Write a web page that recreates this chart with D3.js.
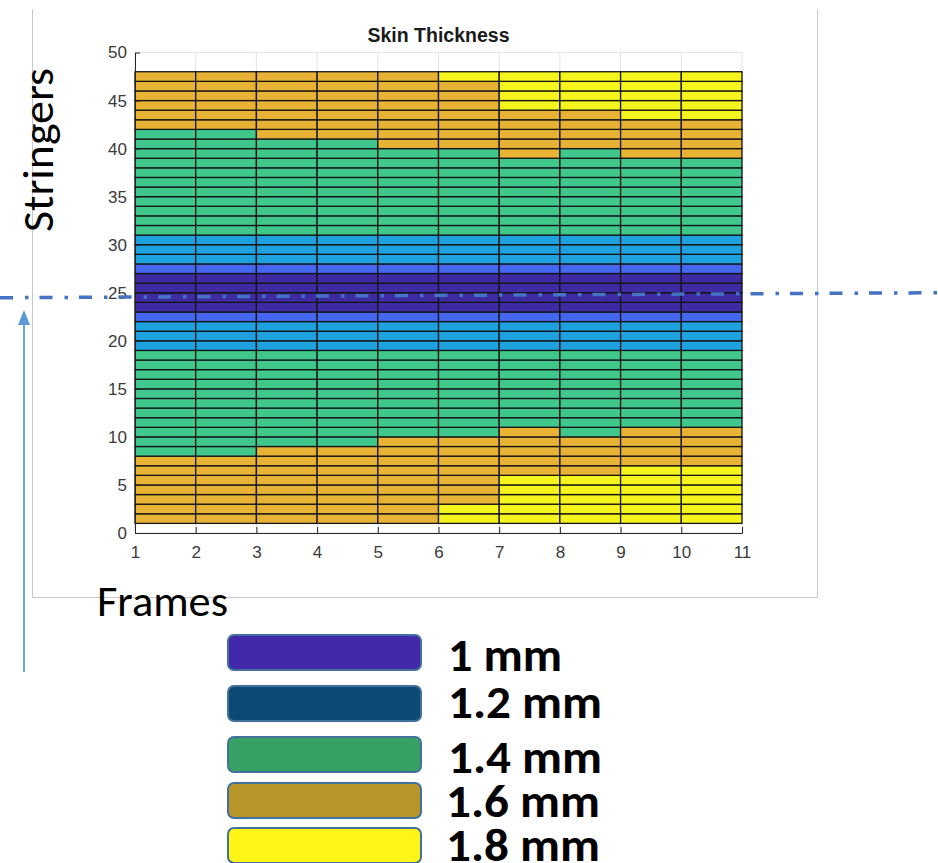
<!DOCTYPE html>
<html>
<head>
<meta charset="utf-8">
<script src="https://cdn.jsdelivr.net/npm/d3@7"></script>
<style>
  html, body { margin: 0; padding: 0; background: #ffffff; }
  svg { display: block; }
</style>
</head>
<body>
<svg id="fig" width="938" height="863"></svg>
<script>
// ---------------- data ----------------
// Axis ticks
const frameTicks = [1, 2, 3, 4, 5, 6, 7, 8, 9, 10, 11];
const stringerTicks = [0, 5, 10, 15, 20, 25, 30, 35, 40, 45, 50];

// First stringer of the panel grid
const firstStringer = 1;

// Skin thickness (mm) for each frame bay (frame 1-2, 2-3, ... 10-11),
// written as runs [thickness, number of stringer bays] going up from stringer 1
const thicknessRuns = [
  [[1.6, 7], [1.4, 11], [1.2, 3], [1.1, 1], [1.0, 4], [1.1, 1], [1.2, 3], [1.4, 11], [1.6, 6]],
  [[1.6, 7], [1.4, 11], [1.2, 3], [1.1, 1], [1.0, 4], [1.1, 1], [1.2, 3], [1.4, 11], [1.6, 6]],
  [[1.6, 8], [1.4, 10], [1.2, 3], [1.1, 1], [1.0, 4], [1.1, 1], [1.2, 3], [1.4, 10], [1.6, 7]],
  [[1.6, 8], [1.4, 10], [1.2, 3], [1.1, 1], [1.0, 4], [1.1, 1], [1.2, 3], [1.4, 10], [1.6, 7]],
  [[1.6, 9], [1.4, 9], [1.2, 3], [1.1, 1], [1.0, 4], [1.1, 1], [1.2, 3], [1.4, 9], [1.6, 8]],
  [[1.8, 2], [1.6, 7], [1.4, 9], [1.2, 3], [1.1, 1], [1.0, 4], [1.1, 1], [1.2, 3], [1.4, 9], [1.6, 7], [1.8, 1]],
  [[1.8, 5], [1.6, 5], [1.4, 8], [1.2, 3], [1.1, 1], [1.0, 4], [1.1, 1], [1.2, 3], [1.4, 8], [1.6, 5], [1.8, 4]],
  [[1.8, 5], [1.6, 4], [1.4, 9], [1.2, 3], [1.1, 1], [1.0, 4], [1.1, 1], [1.2, 3], [1.4, 9], [1.6, 4], [1.8, 4]],
  [[1.8, 6], [1.6, 4], [1.4, 8], [1.2, 3], [1.1, 1], [1.0, 4], [1.1, 1], [1.2, 3], [1.4, 8], [1.6, 4], [1.8, 5]],
  [[1.8, 6], [1.6, 4], [1.4, 8], [1.2, 3], [1.1, 1], [1.0, 4], [1.1, 1], [1.2, 3], [1.4, 8], [1.6, 4], [1.8, 5]]
];

// Thickness levels used in the map
const thicknessLevels = [1.0, 1.1, 1.2, 1.4, 1.6, 1.8];

// Legend entries
const legendThickness = [1.0, 1.2, 1.4, 1.6, 1.8];
const legendLabels = ["1 mm", "1.2 mm", "1.4 mm", "1.6 mm", "1.8 mm"];

// Reference stringer marked by the dash-dot line
const referenceStringer = 25;

// ---------------- styles / layout ----------------
const cellPalette = ["#3e2aa3", "#4566ee", "#1ea1df", "#3fc78c", "#e8b235", "#f5f51d"];
const legendPalette = ["#4229a9", "#0c4a74", "#36a065", "#b89528", "#fff517"];
const legendBoxTop = [635, 686, 737, 783, 828];
const legendBaseline = [671, 718, 773, 817, 861];
const legendTextX = [448, 448, 448, 446, 446];
const legendTextWidth = [114, 154, 154, 154, 154];

const svg = d3.select("#fig");
const plot = { left: 135, right: 742, top: 52.5, bottom: 533 };

const x = d3.scaleLinear().domain([1, 11]).range([plot.left, plot.right]);
const y = d3.scaleLinear().domain([0, 50]).range([plot.bottom, plot.top]);
const cellColor = d3.scaleOrdinal().domain(thicknessLevels).range(cellPalette);
const legendColor = d3.scaleOrdinal().domain(legendThickness).range(legendPalette);

// figure frame (exported figure border)
svg.append("path")
  .attr("d", "M32.5,9 V597.5 H817.5 V9")
  .attr("fill", "none")
  .attr("stroke", "#c8c8c8")
  .attr("stroke-width", 1);

// grid lines
const grid = svg.append("g");
grid.selectAll("line.gx").data(frameTicks).join("line")
  .attr("x1", d => x(d)).attr("x2", d => x(d))
  .attr("y1", y(0)).attr("y2", y(50))
  .attr("stroke", "#e3e3e3").attr("stroke-width", 1);
grid.selectAll("line.gy").data(stringerTicks).join("line")
  .attr("x1", x(1)).attr("x2", x(11))
  .attr("y1", d => y(d)).attr("y2", d => y(d))
  .attr("stroke", "#e3e3e3").attr("stroke-width", 1);

// expand runs into cells
const cells = [];
thicknessRuns.forEach((runs, i) => {
  let s = firstStringer;
  runs.forEach(([t, n]) => {
    for (let k = 0; k < n; k++) {
      cells.push({ f0: frameTicks[i], f1: frameTicks[i + 1], s0: s, s1: s + 1, t });
      s += 1;
    }
  });
});

svg.append("g").selectAll("rect").data(cells).join("rect")
  .attr("x", d => x(d.f0))
  .attr("y", d => y(d.s1))
  .attr("width", d => x(d.f1) - x(d.f0))
  .attr("height", d => y(d.s0) - y(d.s1))
  .attr("fill", d => cellColor(d.t))
  .attr("stroke", "#151515")
  .attr("stroke-width", 1.3);

// axes
const axisFont = "'Liberation Sans', Arial, Helvetica, sans-serif";
const yAxis = svg.append("g")
  .attr("transform", `translate(${plot.left},0)`)
  .call(d3.axisLeft(y).tickValues(stringerTicks).tickSize(-5).tickPadding(8).tickSizeOuter(0));
const xAxis = svg.append("g")
  .attr("transform", `translate(0,${plot.bottom})`)
  .call(d3.axisBottom(x).tickValues(frameTicks).tickSize(-6).tickPadding(13).tickSizeOuter(0));
[yAxis, xAxis].forEach(g => {
  g.select(".domain").attr("stroke", "#262626").attr("stroke-width", 1);
  g.selectAll(".tick line").attr("stroke", "#262626").attr("stroke-width", 1);
  g.selectAll(".tick text")
    .attr("fill", "#3a3a3a")
    .style("font-family", axisFont)
    .style("font-size", "17px");
});

// title
svg.append("text")
  .attr("x", (plot.left + plot.right) / 2)
  .attr("y", 42)
  .attr("text-anchor", "middle")
  .style("font-family", axisFont)
  .style("font-weight", "bold")
  .style("font-size", "19.5px")
  .attr("fill", "#1a1a1a")
  .text("Skin Thickness");

// axis titles
const labelFont = "Carlito, Calibri, Lato, 'Open Sans', sans-serif";
svg.append("text")
  .attr("transform", "translate(53,150) rotate(-90)")
  .attr("text-anchor", "middle")
  .style("font-family", labelFont)
  .style("font-size", "44px")
  .attr("textLength", 164)
  .attr("lengthAdjust", "spacingAndGlyphs")
  .attr("fill", "#000")
  .text("Stringers");

svg.append("text")
  .attr("x", 97)
  .attr("y", 616)
  .style("font-family", labelFont)
  .style("font-size", "44px")
  .attr("textLength", 131)
  .attr("lengthAdjust", "spacingAndGlyphs")
  .attr("fill", "#000")
  .text("Frames");

// reference dash-dot line across the panel
svg.append("line")
  .attr("x1", 0).attr("x2", 938)
  .attr("y1", y(referenceStringer) + 5).attr("y2", y(referenceStringer))
  .attr("stroke", "#4472c4")
  .attr("stroke-width", 3.5)
  .attr("stroke-dasharray", "13,12,3.5,11");

// upward arrow pointing at the reference line
svg.append("line")
  .attr("x1", 24).attr("x2", 24)
  .attr("y1", 672).attr("y2", 322)
  .attr("stroke", "#5b9bd5")
  .attr("stroke-width", 1.8);
svg.append("path")
  .attr("d", "M24,310 L30,325 L18,325 Z")
  .attr("fill", "#5b9bd5");

// legend
const legend = svg.append("g");
legendThickness.forEach((t, i) => {
  legend.append("rect")
    .attr("x", 228).attr("y", legendBoxTop[i])
    .attr("width", 193).attr("height", 35)
    .attr("rx", 6).attr("ry", 6)
    .attr("fill", legendColor(t))
    .attr("stroke", "#41719c")
    .attr("stroke-width", 2);
  legend.append("text")
    .attr("x", legendTextX[i]).attr("y", legendBaseline[i])
    .style("font-family", labelFont)
    .style("font-weight", "bold")
    .style("font-size", "46px")
    .attr("textLength", legendTextWidth[i])
    .attr("lengthAdjust", "spacingAndGlyphs")
    .attr("fill", "#000")
    .text(legendLabels[i]);
});
</script>
</body>
</html>
